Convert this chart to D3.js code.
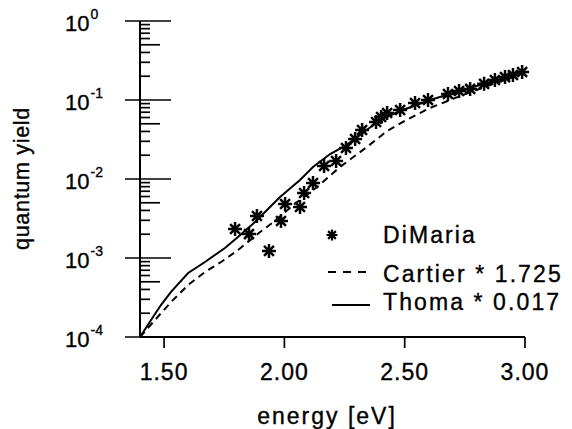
<!DOCTYPE html>
<html>
<head>
<meta charset="utf-8">
<script src="https://cdn.jsdelivr.net/npm/d3@7"></script>
<style>
  html, body { margin: 0; padding: 0; background: #fff; }
  svg { display: block; }
  text { font-family: "Liberation Sans", Arial, Helvetica, sans-serif; fill: #000; stroke: #000; stroke-width: 0.35px; }
</style>
</head>
<body>
<script>
// ---- data ----
const dimariaE = [1.795, 1.853, 1.886, 1.936, 1.986, 2.003, 2.065, 2.082, 2.119, 2.165, 2.215, 2.256, 2.294, 2.323, 2.381, 2.402, 2.427, 2.481, 2.543, 2.597, 2.680, 2.726, 2.772, 2.830, 2.875, 2.917, 2.950, 2.988];
const dimariaQY = [2.33e-3, 2.01e-3, 3.4e-3, 1.23e-3, 2.94e-3, 4.83e-3, 4.42e-3, 6.65e-3, 8.9e-3, 1.46e-2, 1.69e-2, 2.47e-2, 3.21e-2, 4.17e-2, 5.27e-2, 6.09e-2, 6.85e-2, 7.47e-2, 9.16e-2, 0.100, 0.119, 0.130, 0.138, 0.160, 0.179, 0.195, 0.207, 0.226];

const cartierE = [1.40, 1.462, 1.529, 1.60, 1.670, 1.737, 1.807, 1.899, 1.949, 2.053, 2.136, 2.231, 2.343, 2.427, 2.514, 2.605, 2.730, 2.855, 3.00];
const cartierQY = [1.0e-4, 1.64e-4, 2.77e-4, 4.55e-4, 6.65e-4, 8.9e-4, 1.26e-3, 2.13e-3, 2.77e-3, 5.12e-3, 7.92e-3, 1.42e-2, 2.54e-2, 4.05e-2, 5.74e-2, 7.92e-2, 0.112, 0.155, 0.22];

const thomaE = [1.40, 1.446, 1.487, 1.529, 1.60, 1.670, 1.753, 1.807, 1.878, 1.982, 2.065, 2.119, 2.190, 2.252, 2.314, 2.397, 2.481, 2.605, 2.730, 2.855, 3.00];
const thomaQY = [1.0e-4, 1.64e-4, 2.54e-4, 3.72e-4, 6.46e-4, 8.9e-4, 1.34e-3, 1.85e-3, 2.86e-3, 5.92e-3, 9.7e-3, 1.42e-2, 2.07e-2, 2.62e-2, 3.6e-2, 5.58e-2, 7.26e-2, 0.100, 0.130, 0.169, 0.226];

const xTicks = [1.5, 2.0, 2.5, 3.0];
const yTickExponents = [0, -1, -2, -3, -4];
const legendLabels = ["DiMaria", "Cartier * 1.725", "Thoma * 0.017"];
const xTitle = "energy [eV]";
const yTitle = "quantum yield";

// ---- layout ----
const W = 572, H = 429;
const svg = d3.select("body").append("svg").attr("width", W).attr("height", H);
svg.append("rect").attr("width", W).attr("height", H).attr("fill", "#fff");

const x = d3.scaleLinear().domain([1.4, 3.0]).range([140, 525]);
const y = d3.scaleLog().domain([1e-4, 1]).range([337, 21]);

const ink = "#000";

// y axis line
svg.append("line").attr("x1", x(1.4)).attr("x2", x(1.4))
  .attr("y1", y(1)).attr("y2", y(1e-4)).attr("stroke", ink).attr("stroke-width", 2);
// x axis line
svg.append("line").attr("x1", x(1.4)).attr("x2", x(3.0))
  .attr("y1", y(1e-4)).attr("y2", y(1e-4)).attr("stroke", ink).attr("stroke-width", 2);

// y ticks: major (both sides), medium at 5, minor others
const x0 = x(1.4);
y.ticks().forEach(v => {
  const m = Math.round(v / Math.pow(10, Math.floor(Math.log10(v) + 1e-9)));
  const isMajor = m === 1;
  const len = isMajor ? 31 : (m === 5 ? 20 : 10);
  svg.append("line")
    .attr("x1", isMajor ? x0 - 15 : x0).attr("x2", x0 + len)
    .attr("y1", y(v)).attr("y2", y(v))
    .attr("stroke", ink).attr("stroke-width", 1.7);
});

// y tick labels 10^n
yTickExponents.forEach(e => {
  const t = svg.append("text")
    .attr("x", 65).attr("y", y(Math.pow(10, e)) + 10)
    .attr("font-size", 22);
  t.append("tspan").text("10");
  t.append("tspan").attr("dx", 1).attr("dy", -12).attr("font-size", 14).text(e === 0 ? "0" : "-" + Math.abs(e));
});

// x ticks
xTicks.forEach(v => {
  svg.append("line").attr("x1", x(v)).attr("x2", x(v))
    .attr("y1", y(1e-4)).attr("y2", y(1e-4) + 11)
    .attr("stroke", ink).attr("stroke-width", 1.7);
  svg.append("text").attr("x", x(v)).attr("y", 380)
    .attr("text-anchor", "middle").attr("font-size", 23)
    .attr("letter-spacing", 1)
    .text(d3.format(".2f")(v));
});

// axis titles
svg.append("text").attr("x", 327).attr("y", 424)
  .attr("text-anchor", "middle").attr("font-size", 23).attr("letter-spacing", 2)
  .text(xTitle);
svg.append("text").attr("transform", "translate(29,178.5) rotate(-90)")
  .attr("text-anchor", "middle").attr("font-size", 21.5).attr("letter-spacing", 0.7)
  .text(yTitle);

// curves
const line = d3.line().x(d => x(d[0])).y(d => y(d[1]));
svg.append("path").datum(d3.zip(cartierE, cartierQY))
  .attr("d", line).attr("fill", "none").attr("stroke", ink)
  .attr("stroke-width", 2).attr("stroke-dasharray", "7,5");
svg.append("path").datum(d3.zip(thomaE, thomaQY))
  .attr("d", line).attr("fill", "none").attr("stroke", ink)
  .attr("stroke-width", 2);

// asterisk marker
function star(r) {
  const p = d3.path();
  const d = r * Math.SQRT1_2;
  p.moveTo(-r, 0); p.lineTo(r, 0);
  p.moveTo(0, -r); p.lineTo(0, r);
  p.moveTo(-d, -d); p.lineTo(d, d);
  p.moveTo(-d, d); p.lineTo(d, -d);
  return p.toString();
}
svg.append("g").selectAll("path").data(d3.zip(dimariaE, dimariaQY)).join("path")
  .attr("transform", d => `translate(${x(d[0])},${y(d[1])})`)
  .attr("d", star(7)).attr("stroke", ink).attr("stroke-width", 2.5).attr("fill", "none");

// legend
const lg = svg.append("g");
lg.append("path").attr("transform", "translate(332,235)").attr("d", star(5.5))
  .attr("stroke", ink).attr("stroke-width", 2.2).attr("fill", "none");
lg.append("line").attr("x1", 328).attr("x2", 368).attr("y1", 272).attr("y2", 272)
  .attr("stroke", ink).attr("stroke-width", 2).attr("stroke-dasharray", "8,7");
lg.append("line").attr("x1", 332).attr("x2", 370).attr("y1", 305).attr("y2", 305)
  .attr("stroke", ink).attr("stroke-width", 2);
const lgY = [243, 281.5, 310];
legendLabels.forEach((s, i) => {
  lg.append("text").attr("x", 383).attr("y", lgY[i])
    .attr("font-size", 23).attr("letter-spacing", 2.1).text(s);
});
</script>
</body>
</html>
